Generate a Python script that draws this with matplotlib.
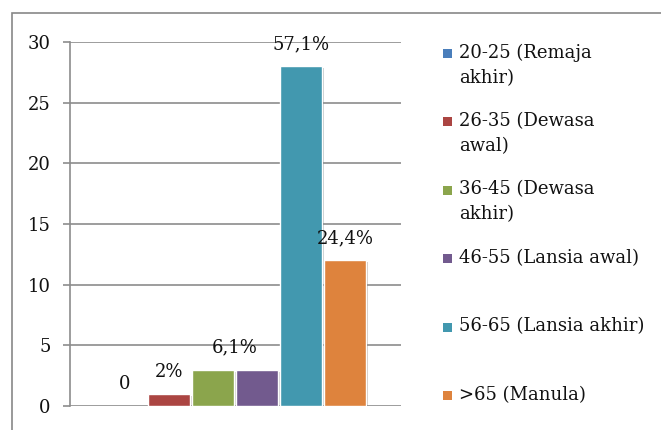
import matplotlib
matplotlib.use('Agg')
import matplotlib.pyplot as plt
import matplotlib.patheffects as pe
from matplotlib.patches import Rectangle

# data
groups = ['20-25 (Remaja\nakhir)', '26-35 (Dewasa\nawal)', '36-45 (Dewasa\nakhir)',
          '46-55 (Lansia awal)', '56-65 (Lansia akhir)', '>65 (Manula)']
counts = [0, 1, 3, 3, 28, 12]
value_labels = ['0', '2%', '6,1%', None, '57,1%', '24,4%']
colors = ['#4A7EBB', '#AB4542', '#8BA54C', '#725A8E', '#4298AF', '#DE833D']
yticks = [0, 5, 10, 15, 20, 25, 30]

W, H = 661, 430
plt.rcParams['font.family'] = ['DejaVu Serif']
fig = plt.figure(figsize=(W / 100, H / 100), dpi=100)

# outer chart border (only top and left visible in the crop)
fig.add_artist(Rectangle((12 / W, -0.1), 1.2, (H - 13) / H + 0.1,
                         transform=fig.transFigure, fill=False,
                         edgecolor='#878787', linewidth=1.2))

ax = fig.add_axes([70 / W, 1 - 406 / H, 331 / W, 364 / H])
x = list(range(len(counts)))
bars = ax.bar(x, counts, width=0.955, color=colors, edgecolor='white',
              linewidth=1.0, zorder=3)
for b, v in zip(bars, counts):
    if v == 0:
        b.set_visible(False)
        continue
    b.set_path_effects([pe.SimplePatchShadow(offset=(1.5, -1.5), alpha=0.25),
                        pe.Normal()])

ax.set_xlim(-1.25, 6.27)
ax.set_ylim(0, 30)
ax.set_yticks(yticks)
ax.set_xticks([])
ax.grid(axis='y', color='#8C8C8C', linewidth=1.2, zorder=0)
for s in ['top', 'right', 'bottom']:
    ax.spines[s].set_visible(False)
ax.spines['left'].set_color('#8C8C8C')
ax.spines['left'].set_linewidth(1.2)
ax.tick_params(axis='y', length=5, width=1.2, color='#8C8C8C',
               labelsize=13, pad=9, labelcolor='#111111')

# value labels; "6,1%" is shared by the two equal bars
for i, lab in enumerate(value_labels):
    if lab is None:
        continue
    xi = i
    if i + 1 < len(value_labels) and value_labels[i + 1] is None:
        xi = i + 0.5
    ax.annotate(lab, (xi, counts[i]), xytext=(0, 16), textcoords='offset points',
                ha='center', va='center', fontsize=13, color='#111111', zorder=5)

# legend drawn at Excel-like even spacing
leg_top = 53
leg_step = 68.5
for i, (lab, c) in enumerate(zip(groups, colors)):
    yc = leg_top + i * leg_step
    fig.add_artist(Rectangle((443 / W, 1 - (yc + 4.5) / H), 8.5 / W, 9 / H,
                             transform=fig.transFigure, facecolor=c,
                             edgecolor='none'))
    fig.text(459 / W, 1 - (yc - 9.5) / H, lab, ha='left', va='top',
             fontsize=13, linespacing=1.5, color='#111111')

fig.savefig('out.png', dpi=100)
